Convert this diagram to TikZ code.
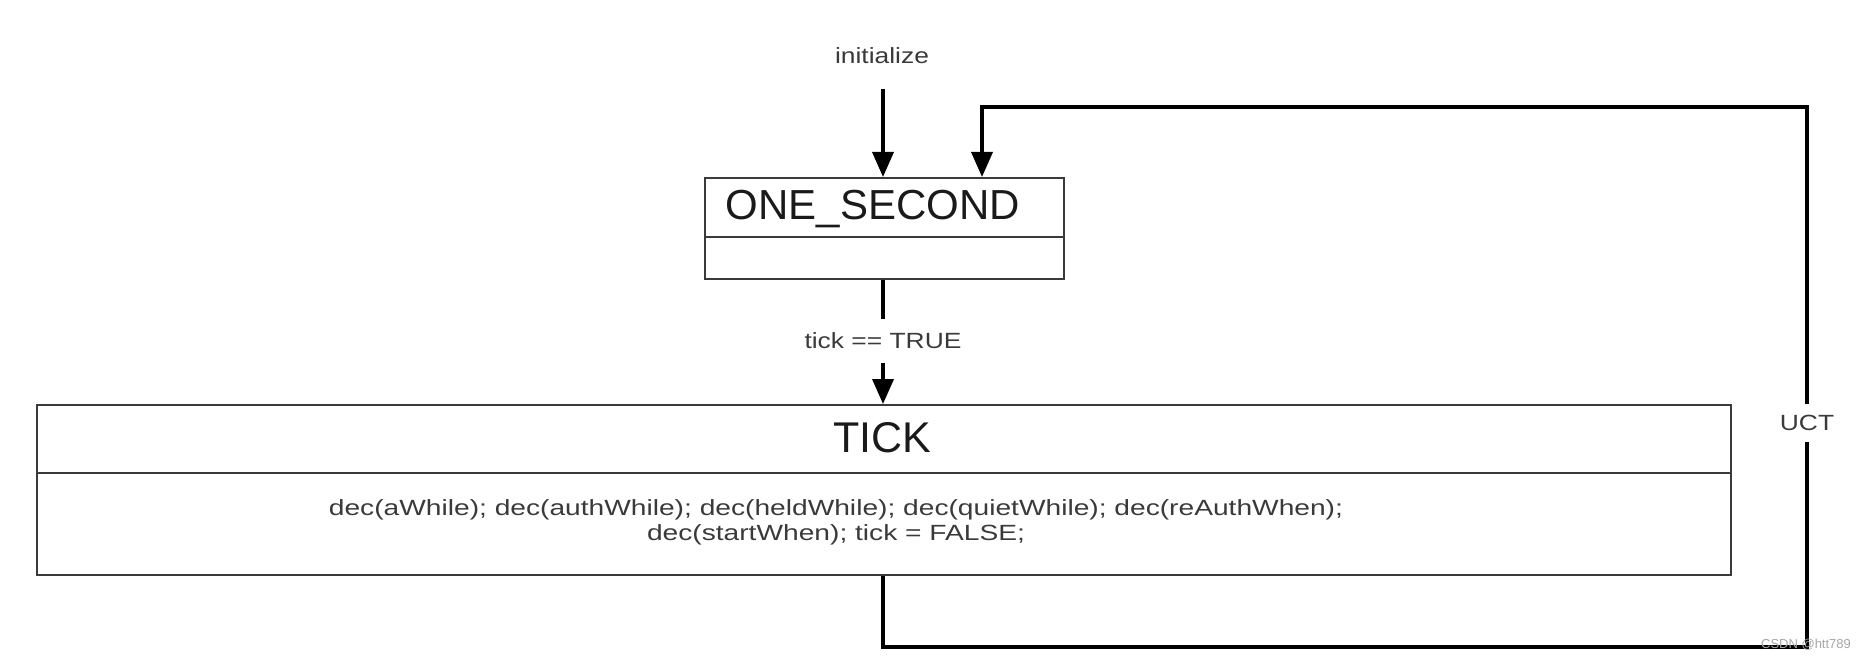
\documentclass[tikz,border=0pt]{standalone}
\usepackage{fontspec}
\setmainfont{Liberation Sans}
\newfontfamily\lblfont[FakeStretch=1.2]{Liberation Sans}
\newfontfamily\bodyfont[FakeStretch=1.28]{Liberation Sans}
\usetikzlibrary{arrows.meta}
\definecolor{boxline}{HTML}{3A3A3A}
\definecolor{txt}{HTML}{1A1A1A}
\definecolor{lbl}{HTML}{3A3A3A}
\tikzset{
  statebox/.style={draw=boxline, line width=2.3pt, minimum width=#1, inner sep=0pt, anchor=north west},
  conn/.style={line width=3.6pt, black},
  arr/.style={conn, -{Triangle[width=21pt,length=25pt]}},
  lbltext/.style={font=\lblfont\fontsize{22}{26}\selectfont, text=lbl, inner sep=0pt},
  title/.style={font=\fontsize{42}{48}\selectfont, text=txt, inner sep=0pt},
}
\begin{document}
\begin{tikzpicture}[x=1pt,y=-1pt]
\useasboundingbox (0,0) rectangle (1862,660);
% ONE_SECOND state
\node[statebox=359pt, minimum height=101pt] (one) at (704,177) {};
\draw[boxline, line width=2.3pt] (704,237) -- (1063,237);
\node[title] (onet) at (873,209.5) {ONE\_SECOND};
% TICK state
\node[statebox=1694pt, minimum height=170pt] (tick) at (36,404) {};
\draw[boxline, line width=2.3pt] (36,473) -- (1730,473);
\node[title, font=\fontsize{43}{48}\selectfont] (tickt) at (882,438) {TICK};
\node[font=\bodyfont\fontsize{22}{25}\selectfont, text=lbl, align=center, inner sep=0pt] (body) at (836,522)
  {dec(aWhile); dec(authWhile); dec(heldWhile); dec(quietWhile); dec(reAuthWhen);\\dec(startWhen); tick = FALSE;};
% initialize
\node[lbltext] (init) at (882,56) {initialize};
\coordinate (initstart) at (883,89);
\draw[arr] (initstart) -- (one.north -| initstart);
% tick == TRUE
\node[lbltext, minimum height=44pt] (cond) at (883,341) {tick == TRUE};
\draw[conn] (one.south -| cond) -- (cond.north);
\draw[arr] (cond.south) -- (tick.north -| cond);
% UCT loop
\node[lbltext, minimum height=38pt] (uct) at (1807,423) {UCT};
\coordinate (loopin) at (982,177);
\coordinate (bottomleft) at (883,647);
\draw[conn] (tick.south -| bottomleft) -- (bottomleft) -| (uct.south);
\draw[arr] (uct.north) |- (982,107) -- (loopin);
% watermark
\node[font=\fontsize{13}{14}\selectfont, text=gray!70, inner sep=0pt] (wm) at (1806,645) {CSDN @htt789};
\end{tikzpicture}
\end{document}
